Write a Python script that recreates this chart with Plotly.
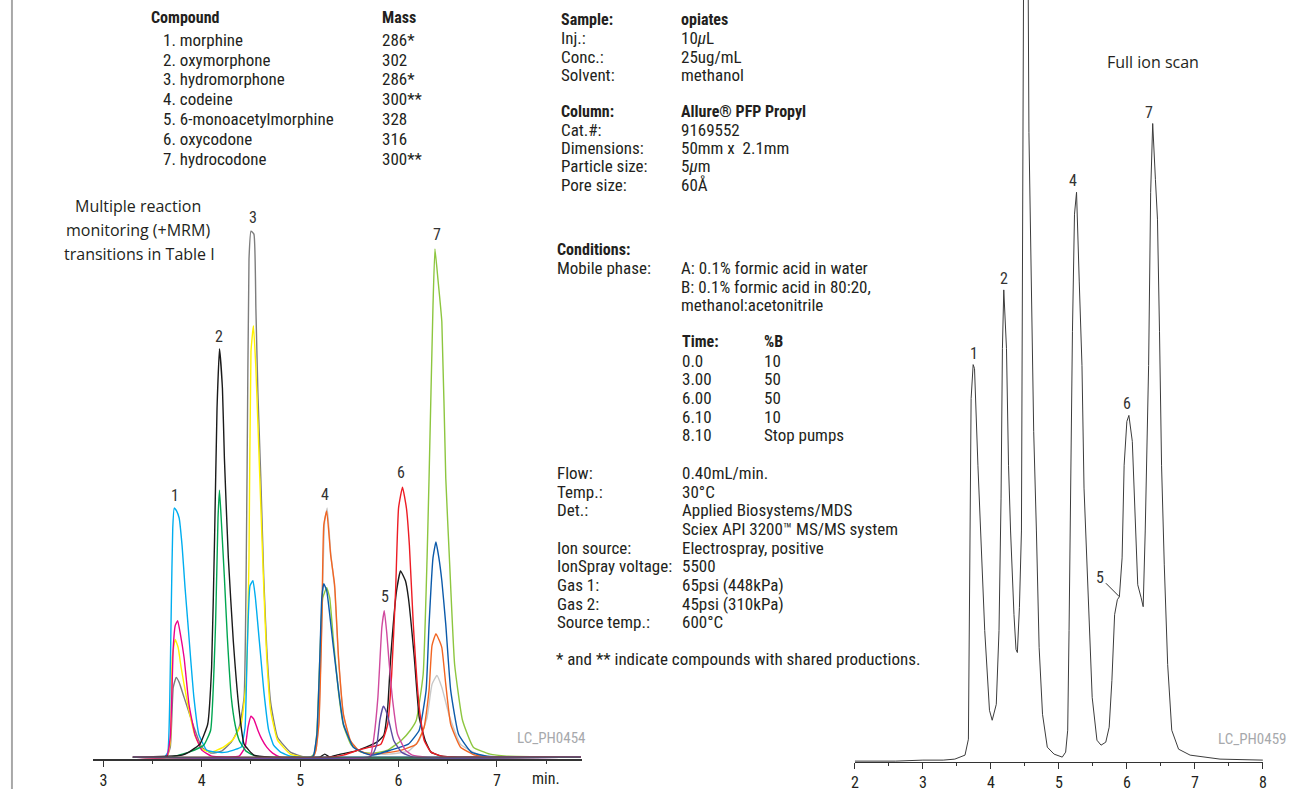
import plotly.graph_objects as go

W, H = 1307, 792
INK = "#231F20"
COND = "Liberation Sans Narrow, Arial Narrow, Roboto Condensed, DejaVu Sans Condensed, sans-serif"
HUM = "Open Sans, Noto Sans, Lato, sans-serif"

# ---------------- Compound table ----------------
compounds = ["1. morphine", "2. oxymorphone", "3. hydromorphone", "4. codeine",
             "5. 6-monoacetylmorphine", "6. oxycodone", "7. hydrocodone"]
masses = ["286*", "302", "286*", "300**", "328", "316", "300**"]

# ---------------- Method text ----------------
sample_labels = ["Sample:", "Inj.:", "Conc.:", "Solvent:"]
sample_values = ["opiates", "10<i>µ</i>L", "25ug/mL", "methanol"]
column_labels = ["Column:", "Cat.#:", "Dimensions:", "Particle size:", "Pore size:"]
column_values = ["Allure® PFP Propyl", "9169552", "50mm x  2.1mm", "5<i>µ</i>m", "60Å"]
mobile_phase = ["A: 0.1% formic acid in water", "B: 0.1% formic acid in 80:20,", "methanol:acetonitrile"]
grad_time = ["0.0", "3.00", "6.00", "6.10", "8.10"]
grad_b = ["10", "50", "50", "10", "Stop pumps"]
cond_labels = ["Flow:", "Temp.:", "Det.:", None, "Ion source:", "IonSpray voltage:", "Gas 1:", "Gas 2:", "Source temp.:"]
cond_values = ["0.40mL/min.", "30°C", "Applied Biosystems/MDS", "Sciex API 3200™ MS/MS system",
               "Electrospray, positive", "5500", "65psi (448kPa)", "45psi (310kPa)", "600°C"]
footnote = "* and ** indicate compounds with shared productions."

# ---------------- MRM chromatogram (left), time in min, intensity arbitrary ----------------
cyan_t = [3.30, 3.62, 3.655, 3.675, 3.69, 3.705, 3.72, 3.745, 3.77, 3.80, 3.83, 3.86, 3.89, 3.92, 3.97, 4.05, 4.15, 4.25, 4.35, 4.40, 4.44, 4.46, 4.49, 4.52, 4.545, 4.57, 4.60, 4.63, 4.68, 4.73, 4.80, 4.90, 5.00, 7.85]
cyan_h = [0, 0, 5, 60, 150, 230, 250, 247, 240, 212, 170, 133, 95, 60, 23, 7, 5, 5, 8, 10, 30, 100, 172, 177, 160, 133, 100, 67, 27, 12, 5, 1, 0, 0]
magenta_t = [3.30, 3.64, 3.68, 3.71, 3.73, 3.755, 3.78, 3.82, 3.87, 3.93, 4.00, 4.10, 4.38, 4.44, 4.47, 4.50, 4.53, 4.57, 4.61, 4.66, 4.72, 4.80, 7.85]
magenta_h = [0, 0, 20, 110, 132, 137, 125, 100, 53, 23, 7, 1, 1, 10, 30, 41, 38, 27, 18, 10, 4, 0, 0]
yellow_t = [3.30, 3.64, 3.68, 3.70, 3.73, 3.76, 3.79, 3.82, 3.87, 3.93, 4.00, 4.10, 4.22, 4.32, 4.40, 4.45, 4.48, 4.50, 4.525, 4.55, 4.59, 4.63, 4.66, 4.70, 4.77, 4.90, 5.05, 7.85]
yellow_h = [0, 0, 15, 100, 118, 110, 90, 73, 47, 22, 8, 5, 10, 18, 33, 75, 200, 407, 433, 390, 280, 170, 100, 47, 17, 3, 0, 0]
gray_t = [3.30, 3.64, 3.68, 3.71, 3.74, 3.77, 3.82, 3.87, 3.92, 4.00, 4.10, 4.20, 4.30, 4.38, 4.43, 4.46, 4.48, 4.50, 4.53, 4.55, 4.57, 4.60, 4.63, 4.66, 4.70, 4.77, 4.90, 5.05, 7.85]
gray_h = [0, 0, 10, 70, 80, 75, 60, 45, 30, 10, 4, 6, 15, 30, 60, 280, 500, 528, 525, 450, 367, 280, 180, 110, 55, 20, 5, 0, 0]
green_t = [3.30, 3.69, 3.87, 4.02, 4.09, 4.14, 4.165, 4.18, 4.20, 4.23, 4.26, 4.30, 4.34, 4.38, 4.45, 4.55, 7.85]
green_h = [0, 0, 5, 12, 27, 133, 240, 268, 235, 180, 120, 60, 32, 17, 6, 1, 0]
black_t = [3.30, 3.80, 3.87, 3.98, 4.06, 4.10, 4.13, 4.155, 4.18, 4.21, 4.23, 4.27, 4.32, 4.38, 4.43, 4.53, 4.70, 5.20, 5.25, 5.30, 5.37, 5.56, 5.67, 5.78, 5.85, 5.89, 5.92, 5.98, 6.02, 6.07, 6.10, 6.16, 6.21, 6.27, 6.33, 6.44, 6.60, 7.85]
black_h = [0, 2, 5, 13, 33, 90, 220, 350, 410, 370, 300, 200, 117, 47, 13, 2, 0, 0, 3, 0, 2, 6, 10, 15, 22, 50, 100, 167, 187, 177, 160, 100, 40, 17, 5, 1, 0, 0]
orange_t = [3.30, 5.13, 5.16, 5.19, 5.22, 5.24, 5.27, 5.31, 5.35, 5.39, 5.44, 5.51, 5.59, 5.70, 5.85, 6.03, 6.18, 6.26, 6.31, 6.34, 6.38, 6.41, 6.44, 6.48, 6.53, 6.63, 6.78, 6.95, 7.85]
orange_h = [0, 0, 7, 33, 133, 233, 247, 203, 173, 100, 43, 17, 7, 3, 4, 7, 13, 30, 67, 112, 124, 118, 110, 73, 33, 10, 2, 0, 0]
lgray_t = [3.30, 5.13, 5.16, 5.19, 5.22, 5.25, 5.275, 5.31, 5.35, 5.39, 5.44, 5.51, 5.59, 5.70, 5.90, 6.10, 6.21, 6.29, 6.34, 6.39, 6.44, 6.52, 6.63, 6.82, 7.00, 7.85]
lgray_h = [0, 0, 7, 35, 140, 238, 250, 205, 170, 98, 42, 16, 7, 3, 3, 6, 17, 40, 73, 82, 70, 40, 13, 2, 0, 0]
navy_t = [3.30, 5.12, 5.14, 5.17, 5.20, 5.22, 5.24, 5.27, 5.33, 5.39, 5.44, 5.54, 5.65, 5.74, 5.92, 6.10, 6.21, 6.28, 6.31, 6.35, 6.38, 6.41, 6.44, 6.48, 6.53, 6.61, 6.74, 6.90, 7.85]
navy_h = [0, 0, 3, 23, 100, 160, 174, 167, 117, 67, 33, 10, 4, 2, 7, 13, 27, 67, 133, 200, 216, 200, 177, 133, 67, 23, 5, 1, 0]
lime_t = [3.30, 5.10, 5.14, 5.17, 5.20, 5.23, 5.27, 5.30, 5.34, 5.39, 5.44, 5.52, 5.62, 5.75, 5.89, 6.03, 6.12, 6.18, 6.25, 6.29, 6.31, 6.35, 6.37, 6.40, 6.44, 6.48, 6.52, 6.57, 6.65, 6.76, 6.93, 7.10, 7.85]
lime_h = [0, 0, 3, 25, 100, 160, 170, 160, 115, 65, 32, 12, 5, 4, 7, 17, 27, 37, 83, 200, 280, 453, 510, 480, 437, 280, 193, 93, 37, 10, 3, 1, 0]
red_t = [3.30, 5.29, 5.44, 5.59, 5.71, 5.82, 5.89, 5.93, 5.97, 6.00, 6.04, 6.08, 6.11, 6.15, 6.21, 6.26, 6.33, 6.44, 6.60, 7.85]
red_h = [0, 0, 2, 7, 10, 13, 33, 83, 167, 250, 271, 250, 213, 133, 50, 17, 5, 1, 0, 0]
pink_t = [3.30, 5.70, 5.72, 5.75, 5.79, 5.83, 5.855, 5.88, 5.90, 5.94, 5.99, 6.07, 6.14, 6.30, 7.85]
pink_h = [0, 0, 3, 20, 60, 130, 147, 125, 100, 57, 23, 7, 2, 0, 0]
purple_t = [3.30, 5.70, 5.74, 5.78, 5.81, 5.845, 5.87, 5.90, 5.95, 6.03, 6.15, 7.85]
purple_h = [0, 0, 3, 13, 37, 51, 47, 37, 17, 5, 0, 0]
baseline_t = [3.30, 7.85]
baseline_h = [0, 0]

mrm_labels = ["1", "2", "3", "4", "5", "6", "7"]
mrm_label_t = [3.727, 4.18, 4.525, 5.25, 5.86, 6.03, 6.39]
mrm_label_h = [263, 422, 542, 264, 161, 286, 525]

# ---------------- Full ion scan (right) ----------------
full_t = [2.00, 2.60, 3.00, 3.30, 3.47, 3.62, 3.67, 3.69, 3.71, 3.74, 3.76, 3.81, 3.86, 3.91, 3.98, 4.02, 4.08, 4.12, 4.15, 4.17,
          4.19, 4.23, 4.26, 4.29, 4.34, 4.37, 4.39, 4.42, 4.45, 4.46, 4.47, 4.48, 4.51, 4.55, 4.56, 4.60, 4.63, 4.67, 4.71, 4.76,
          4.83, 4.93, 5.05, 5.10, 5.13, 5.15, 5.17, 5.20, 5.23, 5.26, 5.30, 5.34, 5.37, 5.43, 5.49, 5.56, 5.62, 5.69, 5.74, 5.78,
          5.82, 5.86, 5.89, 5.93, 5.96, 6.00, 6.03, 6.08, 6.12, 6.16, 6.21, 6.24, 6.27, 6.30, 6.32, 6.35, 6.38, 6.42, 6.45, 6.48,
          6.51, 6.55, 6.60, 6.66, 6.76, 6.93, 7.37, 8.00]
full_h = [0, 0, 1, 1, 2, 6, 22, 231, 364, 398, 394, 297, 210, 131, 51, 41, 57, 131, 264, 414,
          473, 414, 297, 231, 147, 112, 109, 154, 231, 434, 564, 764, 830, 764, 631, 477, 331, 231, 114, 47,
          14, 7, 4, 9, 31, 131, 264, 431, 549, 571, 481, 397, 274, 164, 64, 21, 16, 19, 34, 81,
          147, 162, 165, 204, 297, 341, 347, 321, 247, 177, 164, 155, 231, 331, 397, 571, 640, 584, 544, 431,
          297, 197, 97, 31, 12, 6, 2, 1]
full_labels = ["1", "2", "4", "6", "7"]
full_label_t = [3.75, 4.19, 5.21, 6.00, 6.32]
full_label_h = [409, 484, 583, 359, 651]
shoulder5_t, shoulder5_h = 5.89, 165

fig = go.Figure()

mrm_series = [
    (lgray_t, lgray_h, "#C8C8C8"),
    (gray_t, gray_h, "#7D7D7D"),
    (lime_t, lime_h, "#8DC63F"),
    (yellow_t, yellow_h, "#FFF200"),
    (cyan_t, cyan_h, "#00AEEF"),
    (magenta_t, magenta_h, "#EC008C"),
    (green_t, green_h, "#00A651"),
    (black_t, black_h, "#1A1A1A"),
    (orange_t, orange_h, "#F26522"),
    (navy_t, navy_h, "#0B5AAA"),
    (red_t, red_h, "#ED1C24"),
    (pink_t, pink_h, "#D04A9E"),
    (purple_t, purple_h, "#5B4DA3"),
]
for t, h, c in mrm_series:
    fig.add_trace(go.Scatter(x=t, y=h, mode="lines", line=dict(color=c, width=1.4, shape="spline", smoothing=0.4),
                             xaxis="x", yaxis="y", hoverinfo="skip", showlegend=False))
fig.add_trace(go.Scatter(x=baseline_t, y=baseline_h, mode="lines", line=dict(color="#555555", width=1.4),
                         xaxis="x", yaxis="y", hoverinfo="skip", showlegend=False))

fig.add_trace(go.Scatter(x=full_t, y=full_h, mode="lines", line=dict(color="#3C3C3C", width=1.0),
                         xaxis="x2", yaxis="y2", hoverinfo="skip", showlegend=False))

tickfont = dict(family=COND, size=16, color=INK)
common_x = dict(showline=True, linecolor="#333333", ticks="outside", ticklen=6, tickwidth=1, tickcolor="#333333",
                dtick=1, tick0=0, showgrid=False, zeroline=False, tickfont=tickfont, fixedrange=True,
                minor=dict(dtick=0.5, ticks="outside", ticklen=3, tickcolor="#333333", showgrid=False))
fig.update_layout(
    width=W, height=H, margin=dict(l=0, r=0, t=0, b=0), paper_bgcolor="white", plot_bgcolor="white",
    xaxis=dict(domain=[90 / W, 582 / W], range=[2.899, 7.869], anchor="y", linewidth=1.5, **common_x),
    yaxis=dict(domain=[(H - 762) / H, 1], range=[-2, 760], visible=False, fixedrange=True),
    xaxis2=dict(domain=[856 / W, 1266.7 / W], range=[1.999, 8.001], anchor="y2", linewidth=1, **common_x),
    yaxis2=dict(domain=[(H - 765) / H, 1], range=[-1, 764], visible=False, fixedrange=True),
)

# left frame line
fig.add_shape(type="line", xref="paper", yref="paper", x0=8 / W, x1=8 / W, y0=0, y1=1,
              line=dict(color="#A8A8A8", width=2))


def txt(x, y, text, size=17, bold=False, color=INK, family=COND, xanchor="left"):
    fig.add_annotation(x=x / W, y=1 - y / H, xref="paper", yref="paper",
                       text=("<b>" + text + "</b>") if bold else text, showarrow=False,
                       xanchor=xanchor, yanchor="middle", font=dict(size=size, color=color, family=family))


# compound table
txt(146, 18, "Compound", bold=True, size=16)
txt(378, 18, "Mass", bold=True, size=16)
for i, (c, m) in enumerate(zip(compounds, masses)):
    txt(158, 40 + 19.9 * i, c)
    txt(378, 40 + 19.9 * i, m)

# method block
sample_y = [20, 38.5, 57, 75.5]
for i, (lab, val) in enumerate(zip(sample_labels, sample_values)):
    txt(558, sample_y[i], lab, bold=(i == 0), size=16 if i == 0 else 17)
    txt(679, sample_y[i], val, bold=(i == 0), size=16 if i == 0 else 17)
column_y = [112, 130.5, 149, 167, 185.5]
for i, (lab, val) in enumerate(zip(column_labels, column_values)):
    txt(558, column_y[i], lab, bold=(i == 0), size=16 if i == 0 else 17)
    txt(679, column_y[i], val, bold=(i == 0), size=16 if i == 0 else 17)
txt(554, 250, "Conditions:", bold=True, size=16)
txt(554, 269, "Mobile phase:")
for i, line in enumerate(mobile_phase):
    txt(679, 269 + 18.6 * i, line)
txt(680, 343, "Time:", bold=True, size=16)
txt(763, 343, "%B", bold=True, size=16)
for i, (tt, bb) in enumerate(zip(grad_time, grad_b)):
    txt(680, 362 + 18.7 * i, tt)
    txt(763, 362 + 18.7 * i, bb)
for i, (lab, val) in enumerate(zip(cond_labels, cond_values)):
    yy = 475 + 18.7 * i
    if lab:
        txt(554, yy, lab)
    txt(680, yy, val)
txt(553, 662, footnote)

# chart captions
txt(135, 207, "Multiple reaction", size=16, family=HUM, xanchor="center")
txt(135, 231, "monitoring (+MRM)", size=16, family=HUM, xanchor="center")
txt(136, 255, "transitions in Table I", size=16, family=HUM, xanchor="center")
txt(1156, 62, "Full ion scan", size=16, family=HUM, xanchor="center")
txt(550, 741, "LC_PH0454", size=15, color="#A7A9AC", xanchor="center")
txt(1256, 742, "LC_PH0459", size=15, color="#A7A9AC", xanchor="center")

# "min." axis unit
fig.add_annotation(x=7.5, y=1 - 781 / H, xref="x", yref="paper", text="min.", showarrow=False,
                   xanchor="center", yanchor="middle", font=tickfont)

# peak labels
for lab, t, h in zip(mrm_labels, mrm_label_t, mrm_label_h):
    fig.add_annotation(x=t, y=h, xref="x", yref="y", text=lab, showarrow=False, yanchor="middle",
                       font=dict(family=COND, size=16, color="#333333"))
for lab, t, h in zip(full_labels, full_label_t, full_label_h):
    fig.add_annotation(x=t, y=h, xref="x2", yref="y2", text=lab, showarrow=False, yanchor="middle",
                       font=dict(family=COND, size=16, color="#333333"))
fig.add_annotation(x=shoulder5_t, y=shoulder5_h, xref="x2", yref="y2", text="5", showarrow=True,
                   arrowhead=0, arrowwidth=1, arrowcolor="#333333", ax=-19, ay=-19, standoff=0,
                   font=dict(family=COND, size=16, color="#333333"))

fig.write_html("out.html", config={"displayModeBar": False, "staticPlot": True},
               post_script="document.body.style.margin='0px';document.body.style.padding='0px';"
                           "document.documentElement.style.overflow='hidden';")
